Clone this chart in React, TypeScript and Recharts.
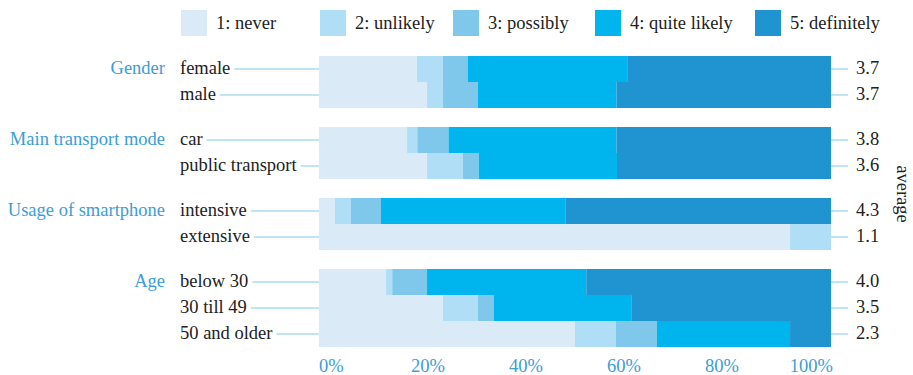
import React from "react";
import { BarChart, Bar, XAxis, YAxis } from "recharts";

// survey groups and the categories inside them
const groupNames = ["Gender", "Main transport mode", "Usage of smartphone", "Age"];
const categories = [
  "female",
  "male",
  "car",
  "public transport",
  "intensive",
  "extensive",
  "below 30",
  "30 till 49",
  "50 and older",
];
const groupOfCategory = [0, 0, 1, 1, 2, 2, 3, 3, 3];

// share of each answer per category, in percent
const never = [19.1, 21.1, 17.2, 21.1, 3.1, 92.0, 13.1, 24.2, 50.0];
const unlikely = [5.1, 3.1, 2.0, 7.0, 3.1, 8.0, 1.2, 6.8, 8.0];
const possibly = [4.9, 6.8, 6.1, 3.1, 5.9, 0, 6.8, 3.1, 8.0];
const quiteLikely = [31.1, 27.1, 32.8, 27.0, 36.1, 0, 31.1, 27.0, 26.0];
const definitely = [39.8, 41.9, 41.9, 41.8, 51.8, 0, 47.8, 38.9, 8.0];
const averages = [3.7, 3.7, 3.8, 3.6, 4.3, 1.1, 4.0, 3.5, 2.3];

const answerKeys = ["never", "unlikely", "possibly", "quiteLikely", "definitely"];
const answerLabels = ["1: never", "2: unlikely", "3: possibly", "4: quite likely", "5: definitely"];
const answerColors = ["#daebf7", "#b0def7", "#7fc7eb", "#00b4ed", "#2094d1"];
const percentTicks = [0, 20, 40, 60, 80, 100];

// layout
const WIDTH = 913;
const HEIGHT = 375;
const PLOT_LEFT = 319;
const PLOT_RIGHT = 831;
const ROW = 26;
const AXIS_H = 30;
const GROUP_TOPS = [56, 127, 198, 269];
const LEGEND_X = [181, 320, 453, 595, 755];
const LABEL_X = 180;
const GROUP_X = 165;
const FONT = '"Liberation Serif", "Times New Roman", serif';
const FONT_SIZE = 18.5;
const BLUE = "#3b9dd6";
const LEADER = "#a9dbf3";
const INK = "#222222";

const rows = categories.map((name, i) => ({
  name,
  group: groupOfCategory[i],
  never: never[i],
  unlikely: unlikely[i],
  possibly: possibly[i],
  quiteLikely: quiteLikely[i],
  definitely: definitely[i],
  average: averages[i],
}));

let measureCtx: CanvasRenderingContext2D | null = null;
function textWidth(s: string) {
  if (!measureCtx) measureCtx = document.createElement("canvas").getContext("2d");
  if (!measureCtx) return s.length * 8;
  measureCtx.font = `${FONT_SIZE}px "Liberation Serif"`;
  return measureCtx.measureText(s).width;
}

function CategoryTick(props: any) {
  const { y, payload, index } = props;
  const row = rows.find((r) => r.name === payload.value);
  if (!row) return null;
  const w = textWidth(row.name);
  return (
    <g>
      {index === 0 && (
        <text x={GROUP_X} y={y} dy={5} textAnchor="end" fill={BLUE} fontSize={FONT_SIZE} fontFamily={FONT}>
          {groupNames[row.group]}
        </text>
      )}
      <text x={LABEL_X} y={y} dy={5} fill={INK} fontSize={FONT_SIZE} fontFamily={FONT}>
        {row.name}
      </text>
      <line x1={LABEL_X + w + 4} x2={PLOT_LEFT} y1={y} y2={y} stroke={LEADER} strokeWidth={1.5} />
      <line x1={PLOT_RIGHT} x2={PLOT_RIGHT + 17} y1={y} y2={y} stroke={LEADER} strokeWidth={1.5} />
      <text x={PLOT_RIGHT + 25} y={y} dy={5} fill={INK} fontSize={FONT_SIZE} fontFamily={FONT}>
        {row.average.toFixed(1)}
      </text>
    </g>
  );
}

// end labels sit inside the plot edges, the middle ones lean toward the centre
function PercentTick(props: any) {
  const { x, payload } = props;
  const v = payload.value;
  const label = `${v}%`;
  let anchor: "start" | "middle" | "end" = "middle";
  let dx = (0.5 - v / 100) * textWidth(label) * 0.65;
  if (v === 0) {
    anchor = "start";
    dx = 0;
  } else if (v === 100) {
    anchor = "end";
    dx = 2;
  }
  return (
    <text x={x} y={3 * ROW + 25} dx={dx} textAnchor={anchor} fill={BLUE} fontSize={FONT_SIZE} fontFamily={FONT}>
      {label}
    </text>
  );
}

function GroupChart({ group, withAxis }: { group: number; withAxis: boolean }) {
  const data = rows.filter((r) => r.group === group);
  const h = data.length * ROW + (withAxis ? AXIS_H : 0);
  return (
    <div style={{ position: "absolute", left: 0, top: GROUP_TOPS[group] }}>
      <BarChart
        width={WIDTH}
        height={h}
        data={data}
        layout="vertical"
        barCategoryGap={0}
        margin={{ top: 0, right: WIDTH - PLOT_RIGHT, bottom: 0, left: 0 }}
      >
        {withAxis ? (
          <XAxis
            type="number"
            domain={[0, 100]}
            ticks={percentTicks}
            interval={0}
            axisLine={false}
            tickLine={false}
            height={AXIS_H}
            tick={<PercentTick />}
          />
        ) : (
          <XAxis type="number" domain={[0, 100]} hide />
        )}
        <YAxis
          type="category"
          dataKey="name"
          width={PLOT_LEFT}
          axisLine={false}
          tickLine={false}
          interval={0}
          tick={<CategoryTick />}
        />
        {answerKeys.map((k, i) => (
          <Bar key={k} dataKey={k} stackId="share" fill={answerColors[i]} isAnimationActive={false} />
        ))}
      </BarChart>
    </div>
  );
}

export default function App() {
  return (
    <div
      style={{
        position: "absolute",
        left: 0,
        top: 0,
        width: WIDTH,
        height: HEIGHT,
        background: "#ffffff",
        fontFamily: FONT,
      }}
    >
      <svg width={WIDTH} height={HEIGHT} style={{ position: "absolute", left: 0, top: 0 }}>
        {answerLabels.map((label, i) => (
          <g key={label}>
            <rect x={LEGEND_X[i]} y={10} width={26} height={26} fill={answerColors[i]} />
            <text x={LEGEND_X[i] + 35} y={29} fill={INK} fontSize={FONT_SIZE} fontFamily={FONT}>
              {label}
            </text>
          </g>
        ))}
        <text
          x={903}
          y={194}
          transform="rotate(90 903 194)"
          textAnchor="middle"
          dominantBaseline="central"
          fill={INK}
          fontSize={FONT_SIZE}
          fontFamily={FONT}
        >
          average
        </text>
      </svg>
      {groupNames.map((_, g) => (
        <GroupChart key={g} group={g} withAxis={g === groupNames.length - 1} />
      ))}
    </div>
  );
}
